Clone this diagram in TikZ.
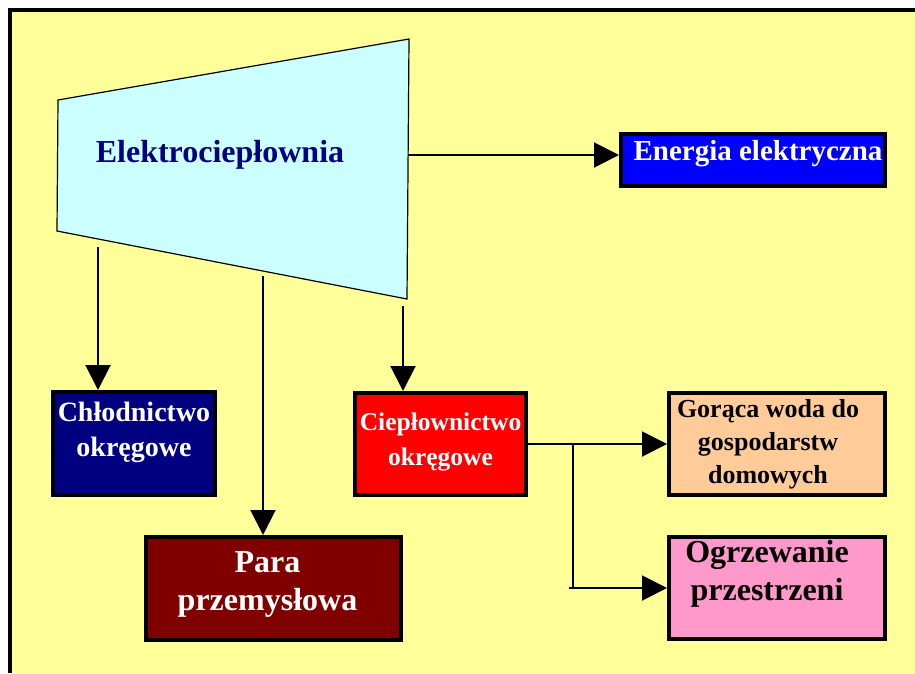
\documentclass[tikz,border=0pt]{standalone}
\usepackage{fontspec}
\setmainfont{Liberation Serif}
\usepackage{xcolor}
\usetikzlibrary{arrows.meta,positioning,calc}

\definecolor{tlo}{HTML}{FFFF99}
\definecolor{turbina}{HTML}{CCFFFF}
\definecolor{granat}{HTML}{000080}
\definecolor{niebieski}{HTML}{0000FF}
\definecolor{czerwony}{HTML}{FF0000}
\definecolor{bordo}{HTML}{800000}
\definecolor{brzoskwinia}{HTML}{FFCC99}
\definecolor{roz}{HTML}{FF99CC}

\tikzset{
  blok/.style={draw=black,line width=4pt,rectangle,inner sep=0pt},
  napis/.style n args={2}{text=white,align=center,font=\fontsize{#1}{#2}\selectfont\bfseries},
  strz/.style={line width=2pt,-{Triangle[length=25pt,width=25pt]}},
  linia/.style={line width=2pt},
}

\begin{document}
\begin{tikzpicture}[x=1pt,y=-1pt]
  \useasboundingbox (0,0) rectangle (915,673);
  \fill[white] (0,0) rectangle (915,673);
  \fill[tlo] (10,10) rectangle (915,673);
  \draw[line width=4pt] (10,673) -- (10,10) -- (915,10);
  % turbina
  \coordinate (t1) at (58,100); \coordinate (t2) at (409,39);
  \coordinate (t3) at (407,299); \coordinate (t4) at (57,231);
  \draw[fill=turbina,line width=1.2pt] (t1)--(t2)--(t3)--(t4)--cycle;
  \node[text=granat,font=\fontsize{32}{38}\selectfont\bfseries] (ecp) at (220,155) {Elektrociepłownia};
  % odbiorcy
  \node[blok,fill=niebieski,minimum width=264pt,minimum height=52pt,
        label={[name=ene-t,napis={29}{34},xshift=5pt,yshift=6pt]center:Energia elektryczna}] (ene) at (753,160) {};
  \node[blok,fill=granat,minimum width=162pt,minimum height=103pt,
        label={[name=chl-t,napis={28}{35},yshift=11pt]center:{Chłodnictwo\\okręgowe}}] (chl) at (134,443.5) {};
  \node[blok,fill=bordo,minimum width=255pt,minimum height=103pt,
        label={[name=para-t,napis={32}{38},xshift=-6pt,yshift=4pt]center:{Para\\przemysłowa}}] (para) at (273.5,588.5) {};
  \node[blok,fill=czerwony,minimum width=171pt,minimum height=102pt,
        label={[name=cie-t,napis={25.5}{35},yshift=2pt]center:{Ciepłownictwo\\okręgowe}}] (cie) at (440.5,444) {};
  \node[blok,fill=brzoskwinia,minimum width=216pt,minimum height=102pt,
        label={[name=gor-t,napis={26}{33},text=black,xshift=-9pt]center:{Gorąca woda do\\gospodarstw\\domowych}}] (gor) at (777,444) {};
  \node[blok,fill=roz,minimum width=216pt,minimum height=102pt,
        label={[name=ogr-t,napis={32}{38},text=black,xshift=-10pt,yshift=14pt]center:{Ogrzewanie\\przestrzeni}}] (ogr) at (777,588) {};
  % strzalki
  \coordinate (ecp-r) at (408,155);
  \coordinate (c1) at (98,247); \coordinate (c2) at (263,276); \coordinate (c3) at (403,306);
  \draw[strz] (ecp-r) -- (ecp-r -| ene.west);
  \draw[strz] (c1) -- (c1 |- chl.north);
  \draw[strz] (c2) -- (c2 |- para.north);
  \draw[strz] (c3) -- (c3 |- cie.north);
  \draw[strz] (cie.east) -- (gor.west);
  \coordinate (rozg) at (573,0);
  \draw[linia] (rozg |- cie.east) -- ($(rozg |- ogr.west)+(0,1)$);
  \draw[strz] ($(rozg |- ogr.west)+(-4,0)$) -- (ogr.west);
\end{tikzpicture}
\end{document}
